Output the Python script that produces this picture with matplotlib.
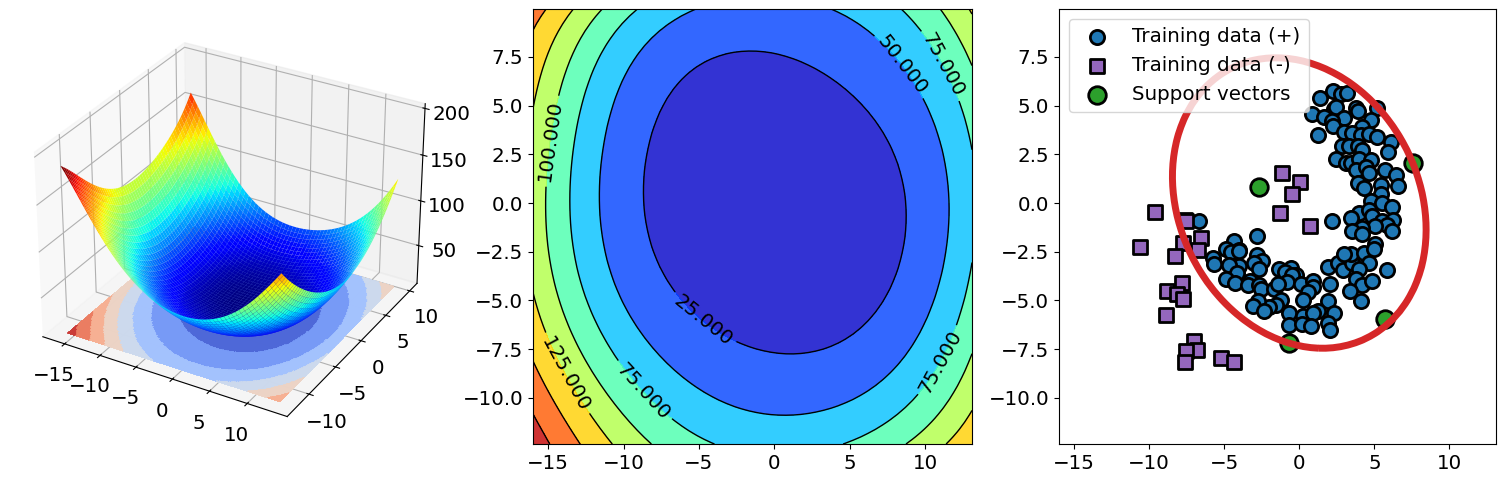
import matplotlib
matplotlib.use("Agg")
import matplotlib.pyplot as plt
import numpy as np

c25_x = [-8.76, -5.95, -1.31, 4.45, 8.43, 8.76, 5.55, 1.35, -6.62, -8.16]
c25_y = [0.77, 6.47, 7.87, 5.96, 1.70, -0.85, -6.47, -7.87, -4.43, -2.56]
c50_x = [-11.35, -5.18, 4.12, 8.32, 11.35, 0.69, -8.32, 5.18, -4.12]
c50_y = [0.51, 9.88, 9.88, 7.07, -0.34, -10.87, -7.07, -9.88, -9.88]
c75_x = [-13.41, -8.94, 8.43, 11.31, 13.03, 13.03, 9.42, 4.78, -3.96, -8.38, -12.37]
c75_y = [0.51, 9.88, 9.88, 6.73, 2.73, -3.58, -9.88, -12.32, -12.32, -9.80, -4.60]
c100_x = [-15.18, -11.59, 11.08, 13.03, 13.03, 8.87, -8.16, -13.03, -13.03]
c100_y = [0.51, 9.88, 9.88, 7.33, -7.92, -12.32, -12.32, -7.33, 7.92]
c125_x = [-13.58, -16.0, -16.0, -13.92, -10.86, 11.42, 13.03]
c125_y = [9.88, 5.11, -4.68, -8.77, -12.32, -12.32, -10.73]
c150_x = [-15.46, -16.0, -16.0, -13.03]
c150_y = [9.88, 8.94, -8.18, -12.32]
c175_x = [-16.0, -14.91]
c175_y = [-10.82, -12.32]
# two corners and the bottom of the bowl
c_low_x = [-16.0, -16.0, 0.0, -4.38, -0.65, 4.38, 0.67]
c_low_y = [9.95, -12.36, 0.0, 0.38, 3.93, -0.42, -3.93]
c_low_z = [162.0, 188.0, 9.0, 12.0, 12.0, 12.0, 12.0]

levels = [0, 25, 50, 75, 100, 125, 150, 175, 200]
label_pos = [(-4.4, -5.7), (8.3, 7.0), (10.7, 6.9), (-8.6, -9.6), (10.7, -8.0),
             (-15.0, 3.2), (-13.9, -8.8)]
x_range = [-16.0, 13.1]
y_range = [-12.36, 9.95]

pos_x = [2.26, 2.77, 3.21, 1.40, 3.77, 3.92, 5.20, 2.33, 2.44, 0.82, 1.66, 2.99, 2.21, 2.26, 4.76, 4.21,
         2.99, 3.54, 4.10, 4.65, 5.20, 1.22, 6.14, 5.94, 2.83, 3.32, 3.88, 4.21, 2.44, 3.10, 3.43, 3.99,
         4.76, 3.77, 4.43, 4.65, 5.71, 6.42, 3.88, 4.32, 5.43, 6.58, 5.47, 4.76, 5.54, 6.20, 3.99, 3.43,
         4.65, 4.87, 2.21, -6.71, 5.54, 6.27, 5.87, 5.05, 4.21, 3.54, 4.16, 6.16, -2.83, -4.32,
         -4.87, -3.99, -4.54, -4.03, -2.83, -5.76, -5.65, -2.48, -3.99, -4.70, -2.99, -2.70, -4.16, -4.87,
         -4.25, -3.26, -3.39, -2.70, -2.55, -1.33, -0.55, -0.93, -0.22, -0.51, -1.66, -0.84, -1.44, 0.11,
         0.89, 0.89, 0.55, 0.27, 1.88, 2.04, 1.88, 2.61, 2.88, 3.54, 3.43, 2.99, 4.32, 5.05, 4.98, 4.65,
         3.99, 3.77, 4.21, 4.87, 3.37, 4.10, 5.82, -1.22, -1.55, -1.99, -2.77, -3.10, -2.33, -0.66, 0.22,
         1.22, 0.89, 2.33, 1.88, 2.04, -0.71, 0.16, 0.78]
pos_y = [5.76, 5.59, 5.62, 5.38, 4.86, 4.74, 4.89, 4.80, 4.91, 4.57, 4.43, 4.34, 4.22, 3.95, 4.26, 3.92,
         3.66, 3.58, 3.49, 3.54, 3.37, 3.49, 3.15, 2.64, 2.90, 2.90, 2.90, 2.73, 2.28, 2.04, 2.04, 2.25,
         2.18, 1.67, 1.87, 1.53, 1.70, 1.45, 1.02, 0.77, 0.94, 0.89, 0.48, 0.09, 0.00, -0.20, -0.51, -0.77,
         -0.34, -0.65, -0.92, -0.92, -0.94, -0.85, -1.11, -1.19, -1.28, -1.45, -1.58, -1.45, -1.67, -1.96,
         -2.35, -2.39, -2.52, -2.47, -2.69, -2.81, -3.12, -2.98, -3.24, -3.19, -3.07, -3.36, -3.58, -3.88,
         -4.09, -4.00, -4.22, -4.22, -4.40, -3.41, -3.32, -3.54, -3.71, -3.70, -4.43, -4.05, -4.17, -4.17,
         -4.00, -4.29, -4.55, -4.99, -5.03, -4.17, -3.27, -3.07, -3.46, -3.07, -2.64, -2.64, -2.56, -2.08,
         -2.35, -3.07, -3.41, -3.88, -4.22, -4.00, -4.51, -5.03, -3.46, -4.97, -5.25, -5.32, -5.03, -5.28,
         -5.54, -5.62, -5.79, -5.54, -5.62, -5.66, -6.17, -6.52, -6.27, -6.18, -6.30]
neg_x = [-9.63, -7.64, -7.57, -6.53, -10.59, -7.75, -6.76, -8.26, -7.82, -8.82, -8.15, -7.71, -8.90,
         -6.98, -6.82, -7.57, -7.64, -5.20, -4.32, -1.31, 0.71, -1.15, 0.04, -0.49]
neg_y = [-0.48, -0.85, -0.94, -1.79, -2.27, -2.04, -2.39, -2.73, -4.09, -4.51, -4.68, -4.94, -5.76,
         -7.07, -7.53, -7.58, -8.13, -7.96, -8.14, -0.51, -1.16, 1.53, 1.06, 0.46]
sv_x = [-2.70, 7.57, -0.71, 5.71]
sv_y = [0.80, 2.04, -7.16, -5.93]
# covariance like matrix of the red ellipse
boundary = [[71.4, -11.55], [-11.55, 55.5]]


def features(x, y):
    x = np.asarray(x) / 10.0
    y = np.asarray(y) / 10.0
    return np.stack([x**i * y**j for i in range(7) for j in range(7 - i)], axis=-1)


# smooth surface through the contour readings, inner contour and corners count more
sx = np.array(c25_x + c50_x + c75_x + c100_x + c125_x + c150_x + c175_x + c_low_x)
sy = np.array(c25_y + c50_y + c75_y + c100_y + c125_y + c150_y + c175_y + c_low_y)
sz = np.array([25.0] * len(c25_x) + [50.0] * len(c50_x) + [75.0] * len(c75_x) + [100.0] * len(c100_x)
              + [125.0] * len(c125_x) + [150.0] * len(c150_x) + [175.0] * len(c175_x) + c_low_z)
weight = np.ones(len(sz))
weight[:len(c25_x)] = 3.0
weight[-len(c_low_x):-len(c_low_x) + 2] = 3.0
coef = np.linalg.lstsq(features(sx, sy) * weight[:, None], sz * weight, rcond=None)[0]

X, Y = np.meshgrid(np.linspace(x_range[0], x_range[1], 60), np.linspace(y_range[0], y_range[1], 60))
Z = features(X, Y) @ coef

# fine grid for the floor of the 3d panel, flat colour per band
Xf, Yf = np.meshgrid(np.linspace(x_range[0], x_range[1], 260), np.linspace(y_range[0], y_range[1], 260))
Zf = features(Xf, Yf) @ coef
band = (np.digitize(Zf, levels) - 0.5) * 25 / 200
floor_colors = plt.get_cmap("coolwarm")(band)
floor_colors[..., 3] = 0.8

W, H = 1506, 483
plt.rcParams["font.size"] = 14.3


def box(left, top, right, bottom):
    return [left / W, 1 - bottom / H, (right - left) / W, (bottom - top) / H]


fig = plt.figure(figsize=(W / 100, H / 100), dpi=100)

ax = fig.add_axes(box(9, 9, 446, 444), projection="3d", computed_zorder=False)
ax.plot_surface(Xf, Yf, np.full_like(Xf, Z.min()), facecolors=floor_colors, rstride=1, cstride=1,
                linewidth=0, antialiased=False, shade=False, zorder=1)
ax.plot_surface(X, Y, Z, cmap="jet", rstride=1, cstride=1, linewidth=0, zorder=2)
ax.set_xticks([-15, -10, -5, 0, 5, 10])
ax.set_yticks([-10, -5, 0, 5, 10])
ax.set_zlim(7, 205)
ax.set_zticks([50, 100, 150, 200])

ax = fig.add_axes(box(533, 9, 972, 444))
ax.contourf(X, Y, Z, levels=levels, cmap="jet", alpha=0.8)
cs = ax.contour(X, Y, Z, levels=levels, colors="black", linewidths=1)
ax.clabel(cs, fontsize=14.3, fmt="%1.3f", manual=label_pos)
ax.set_xlim(x_range)
ax.set_ylim(y_range)

ax = fig.add_axes(box(1059, 9, 1496, 444))
inv = np.linalg.inv(boundary)
F = inv[0][0] * X**2 + 2 * inv[0][1] * X * Y + inv[1][1] * Y**2
ax.contour(X, Y, F, levels=[1], colors="tab:red", linewidths=5)
ax.scatter(pos_x, pos_y, s=105, c="tab:blue", edgecolors="black", linewidths=2, label="Training data (+)")
ax.scatter(neg_x, neg_y, s=105, c="tab:purple", marker="s", edgecolors="black", linewidths=2, label="Training data (-)")
ax.scatter(sv_x, sv_y, s=160, c="tab:green", edgecolors="black", linewidths=2, label="Support vectors")
ax.legend(loc="upper left", fontsize=14.3)
ax.set_xlim(x_range)
ax.set_ylim(y_range)

fig.savefig("out.png", dpi=100)
